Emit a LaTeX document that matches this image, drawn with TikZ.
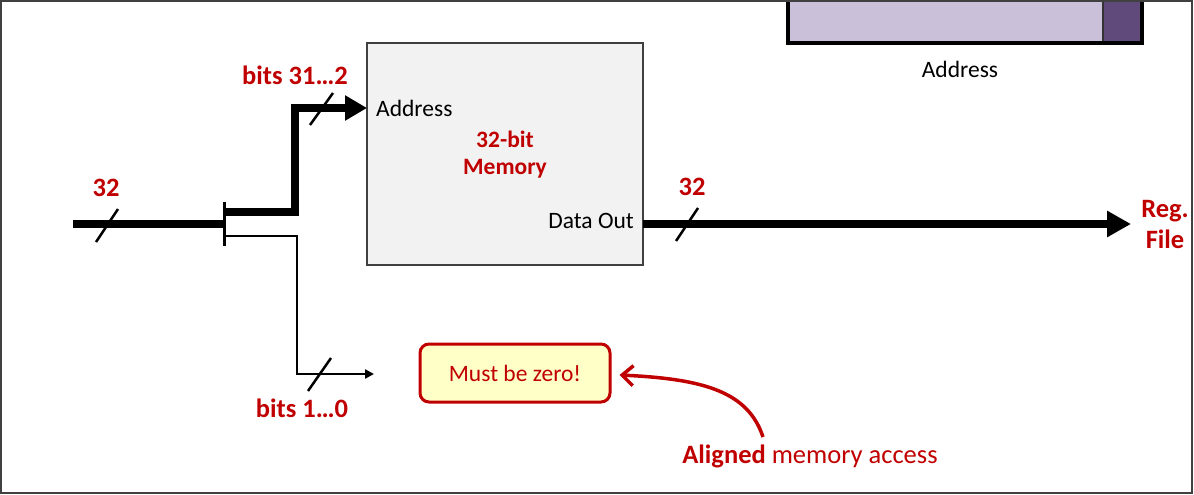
\documentclass[tikz,border=0pt]{standalone}
\usepackage{fontspec}
\setmainfont{Carlito}
\usetikzlibrary{arrows.meta}
\definecolor{dred}{HTML}{C00000}
\definecolor{lpurple}{HTML}{CBC0DA}
\definecolor{dpurple}{HTML}{5F4A7B}
\definecolor{framegray}{HTML}{404040}
\definecolor{memfill}{HTML}{F2F2F2}
\definecolor{zfill}{HTML}{FFFFC8}
\tikzset{
  txt/.style={inner sep=0pt, font=\fontsize{23.5}{28}\selectfont},
  rlabel/.style={txt, text=dred, font=\fontsize{26.5}{31}\selectfont\bfseries, align=center},
  bus/.style={line width=8pt, line join=miter},
  wire/.style={line width=2.5pt},
  slash/.style={line width=2.5pt},
  membox/.style={draw=framegray, line width=1.5pt, fill=memfill, minimum width=276pt, minimum height=222pt, inner sep=0pt},
  zbox/.style={draw=dred, line width=3pt, fill=zfill, rounded corners=9pt, minimum width=190pt, minimum height=58pt, text=dred, font=\fontsize{23.5}{28}\selectfont, inner sep=0pt},
  redarrow/.style={draw=dred, line width=3.5pt, -{Straight Barb[length=11pt,width=20pt,line width=3.5pt]}}
}
\begin{document}
\begin{tikzpicture}[x=1pt,y=-1pt]
\useasboundingbox (0,0) rectangle (1194,495);
% purple address bar
\fill[lpurple] (788,0) rectangle (1103,43);
\fill[dpurple] (1103,0) rectangle (1142,43);
\draw[line width=2pt, black!80] (1103,0) -- (1103,43);
\draw[line width=3.5pt, black, line join=miter] (788,0) |- (1142,43) -- (1142,0);
\node[txt] (addrbar) at (960,69) {Address};
% frame
\draw[framegray, line width=2pt] (1,1) rectangle (1192,493);
% memory
\node[membox] (mem) at (505,154) {};
\node[txt, anchor=west] (addr) at (376,108) {Address};
\node[rlabel, font=\fontsize{23.5}{27}\selectfont\bfseries] (memlbl) at (505,155) {32-bit\\Memory};
\node[txt, anchor=east] (dout) at (634,221) {Data Out};
% coordinates
\coordinate (in) at (73,224);
\coordinate (sp) at (224,224);
\coordinate (sptop) at (224,202);
\coordinate (spbot) at (224,246);
\coordinate (upA) at (224,212);
\coordinate (ain) at (367,108);
\coordinate (loA) at (224,236);
\coordinate (loend) at (374,374);
\coordinate (outA) at (643,224);
\coordinate (outB) at (1131,224);
% input bus and splitter
\draw[bus] (in) -- (sp);
\draw[line width=3pt] (sptop) -- (spbot);
\draw[slash] (96,242) -- (118,209);
\node[rlabel] (n32a) at (106,188) {32};
% upper branch
\draw[bus, -{Triangle[length=22pt,width=24pt]}] (upA) -| (295,108) -- (ain);
\draw[slash] (310,125) -- (333,93);
\node[rlabel] (hi) at (295,75) {bits 31…2};
% lower branch
\draw[wire, -{Triangle[length=9pt,width=9pt]}] (loA) -| (297,374) -- (loend);
\draw[slash] (308,391) -- (331,358);
\node[rlabel] (lo) at (302,408) {bits 1…0};
% output bus
\draw[bus, -{Triangle[length=24pt,width=25pt]}] (outA) -- (outB);
\draw[slash] (676,241) -- (698,208);
\node[rlabel] (n32b) at (692,187) {32};
\node[rlabel] (reg) at (1165,225) {Reg.\\File};
% must be zero
\node[zbox] (zero) at (515,373) {Must be zero!};
\node[txt, text=dred, font=\fontsize{26.5}{31}\selectfont] (al) at (810,456) {\textbf{Aligned} memory access};
\coordinate (cstart) at (763,437);
\draw[redarrow] (cstart) .. controls (748,392) and (705,379) .. ([xshift=8pt,yshift=-2pt]zero.east);
\end{tikzpicture}
\end{document}
